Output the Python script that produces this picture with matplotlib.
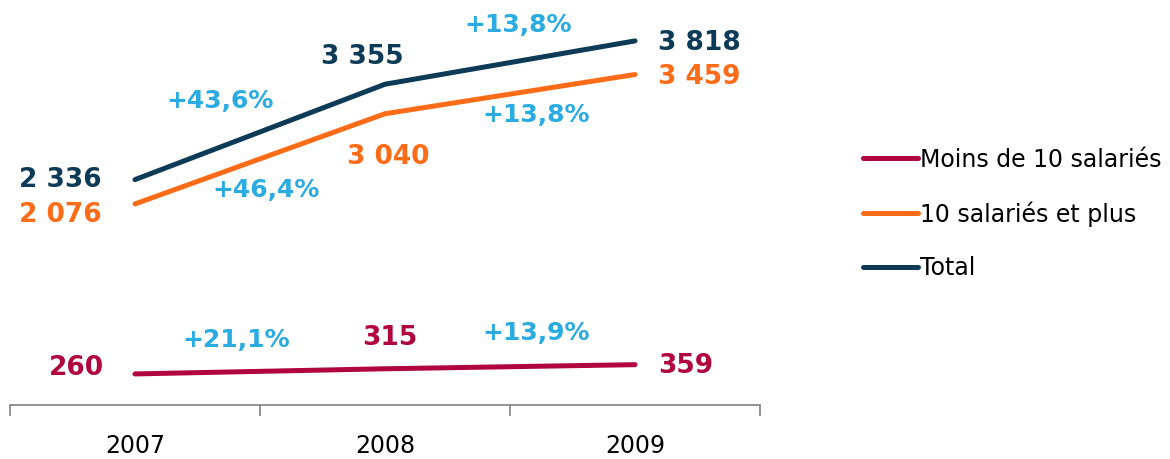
import matplotlib
matplotlib.use("Agg")
import matplotlib.pyplot as plt

# Data
years = ["2007", "2008", "2009"]
moins_10 = [260, 315, 359]
plus_10 = [2076, 3040, 3459]
total = [2336, 3355, 3818]

value_labels_moins = ["260", "315", "359"]
value_labels_plus = ["2 076", "3 040", "3 459"]
value_labels_total = ["2 336", "3 355", "3 818"]

pct_moins = ["+21,1%", "+13,9%"]
pct_plus = ["+46,4%", "+13,8%"]
pct_total = ["+43,6%", "+13,8%"]

# Colours
C_MOINS = "#b0053f"
C_PLUS = "#ff6b17"
C_TOTAL = "#0d3a56"
C_PCT = "#2aabe2"

fig = plt.figure(figsize=(11.7, 4.59), dpi=100)
ax = fig.add_axes([10 / 1170, 1 - 405 / 459, 750 / 1170, 405 / 459])

x = list(range(len(years)))
ax.plot(x, moins_10, color=C_MOINS, lw=3.6, solid_capstyle="round", label="Moins de 10 salariés")
ax.plot(x, plus_10, color=C_PLUS, lw=3.6, solid_capstyle="round", label="10 salariés et plus")
ax.plot(x, total, color=C_TOTAL, lw=3.6, solid_capstyle="round", label="Total")

ax.set_xlim(-0.5, 2.5)
ax.set_ylim(-72, 4255)


def label(xv, yv, text, dx, dy, color, ha="center", size=19):
    ax.annotate(text, xy=(xv, yv), xytext=(dx, dy), textcoords="offset pixels",
                ha=ha, va="center", color=color, fontsize=size, fontweight="bold")


# value labels
label(x[0], total[0], value_labels_total[0], -33, 0, C_TOTAL, "right")
label(x[1], total[1], value_labels_total[1], -23, 27, C_TOTAL)
label(x[2], total[2], value_labels_total[2], 23, -2, C_TOTAL, "left")

label(x[0], plus_10[0], value_labels_plus[0], -33, -11, C_PLUS, "right")
label(x[1], plus_10[1], value_labels_plus[1], 3, -43, C_PLUS)
label(x[2], plus_10[2], value_labels_plus[2], 23, -2, C_PLUS, "left")

label(x[0], moins_10[0], value_labels_moins[0], -31, 6, C_MOINS, "right")
label(x[1], moins_10[1], value_labels_moins[1], 5, 31, C_MOINS)
label(x[2], moins_10[2], value_labels_moins[2], 23, -1, C_MOINS, "left")

# growth labels, anchored at segment midpoints
def mid(series, i):
    return (x[i] + x[i + 1]) / 2, (series[i] + series[i + 1]) / 2


label(*mid(total, 0), pct_total[0], -40, 31, C_PCT, size=18)
label(*mid(total, 1), pct_total[1], 8, 38, C_PCT, size=18)
label(*mid(plus_10, 0), pct_plus[0], 6, -31, C_PCT, size=18)
label(*mid(plus_10, 1), pct_plus[1], 26, -21, C_PCT, size=18)
label(*mid(moins_10, 0), pct_moins[0], -24, 31, C_PCT, size=18)
label(*mid(moins_10, 1), pct_moins[1], 26, 34, C_PCT, size=18)

# axes styling
for s in ["top", "right", "left"]:
    ax.spines[s].set_visible(False)
ax.spines["bottom"].set_color("#808080")
ax.spines["bottom"].set_linewidth(1.2)
ax.set_yticks([])
ax.set_xticks([-0.5, 0.5, 1.5, 2.5])
ax.set_xticklabels([])
ax.tick_params(axis="x", which="major", direction="out", length=8, width=1.2, color="#808080")
ax.set_xticks(x, minor=True)
ax.set_xticklabels(years, minor=True, fontsize=17)
ax.tick_params(axis="x", which="minor", length=0, pad=21)

fig.legend(loc="center left", bbox_to_anchor=(842 / 1170, 1 - 214 / 459), frameon=False,
           fontsize=17, handlelength=2.3, handletextpad=0.12, labelspacing=1.25)

fig.savefig("out.png", dpi=100)
